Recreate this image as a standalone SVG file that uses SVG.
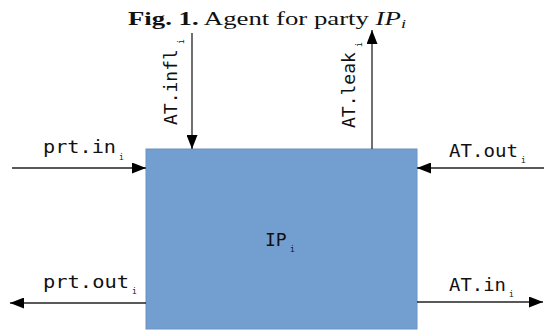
<svg xmlns="http://www.w3.org/2000/svg" width="544" height="332" viewBox="0 0 544 332">
  <style>
    .lbl { font-family: "DejaVu Sans Mono", "Liberation Mono", monospace; font-size: 18px; fill: #111; }
    .sub { font-family: "DejaVu Sans Mono", "Liberation Mono", monospace; font-size: 8px; fill: #111; }
    .wire { stroke: #222; stroke-width: 1.3; fill: none; marker-end: url(#head); }
    .title { font-family: "Liberation Serif", "Times New Roman", serif; font-size: 19px; fill: #111; }
  </style>
  <defs>
    <marker id="head" markerUnits="userSpaceOnUse" markerWidth="14" markerHeight="11" refX="14" refY="5.5" orient="auto">
      <path d="M0,0 L14,5.5 L0,11 z" fill="#000"/>
    </marker>
  </defs>

  <!-- caption -->
  <g id="caption">
    <text class="title" x="128" y="25" textLength="278" lengthAdjust="spacingAndGlyphs"><tspan font-weight="bold">Fig. 1.</tspan> Agent for party <tspan font-style="italic">IP</tspan><tspan font-style="italic" font-size="13" dy="3">i</tspan></text>
  </g>

  <!-- party block -->
  <g id="party">
    <rect x="146" y="149" width="271" height="180" fill="#729fcf" stroke="#6a92c2" stroke-width="1"/>
    <text class="lbl" x="265" y="246" font-size="16">IP</text>
    <text class="sub" x="290" y="252">i</text>
  </g>

  <!-- connectors -->
  <g id="connectors">
    <line class="wire" x1="12" y1="168" x2="146" y2="168"/>
    <line class="wire" x1="544" y1="168" x2="417" y2="168"/>
    <line class="wire" x1="146" y1="303" x2="10" y2="303"/>
    <line class="wire" x1="417" y1="302" x2="543" y2="302"/>
    <line class="wire" x1="192" y1="33" x2="192" y2="149"/>
    <line class="wire" x1="372" y1="149" x2="372" y2="30"/>
  </g>

  <!-- connector labels -->
  <g id="labels">
    <text class="lbl" x="43" y="153" textLength="73" lengthAdjust="spacingAndGlyphs">prt.in</text>
    <text class="sub" x="119" y="160">i</text>

    <text class="lbl" x="449" y="157" textLength="69" lengthAdjust="spacingAndGlyphs">AT.out</text>
    <text class="sub" x="521" y="163">i</text>

    <text class="lbl" x="43" y="288" textLength="86" lengthAdjust="spacingAndGlyphs">prt.out</text>
    <text class="sub" x="132" y="294">i</text>

    <text class="lbl" x="449" y="291" textLength="57" lengthAdjust="spacingAndGlyphs">AT.in</text>
    <text class="sub" x="509" y="297">i</text>

    <text class="lbl" transform="translate(177,125) rotate(-90)">AT.infl</text>
    <text class="sub" transform="translate(184,44) rotate(-90)">i</text>

    <text class="lbl" transform="translate(355,128) rotate(-90)">AT.leak</text>
    <text class="sub" transform="translate(362,47) rotate(-90)">i</text>
  </g>
</svg>
